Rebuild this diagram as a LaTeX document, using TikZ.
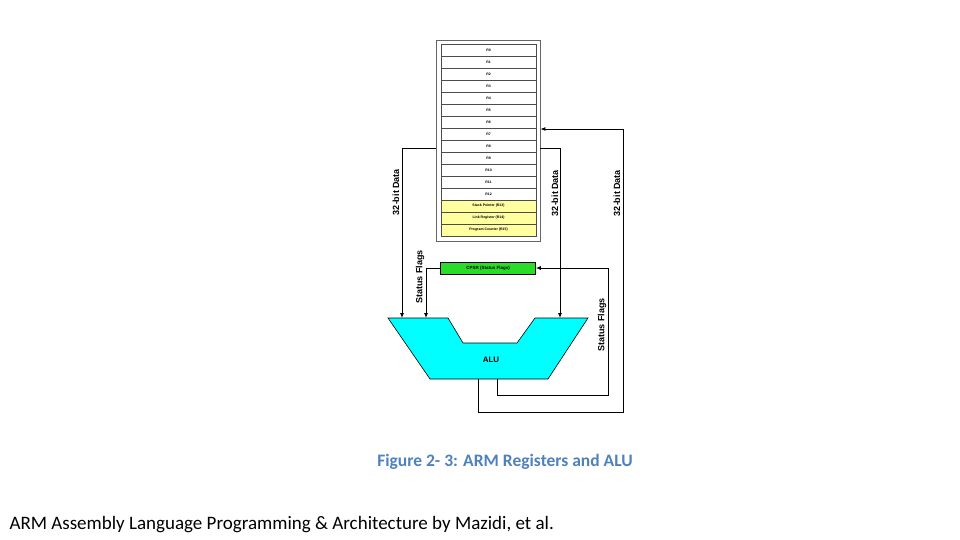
\documentclass[tikz,border=0pt]{standalone}
\usepackage{fontspec}
\setmainfont{Carlito}
\newfontfamily\arialf{Liberation Sans}
\definecolor{capblue}{RGB}{79,129,189}
\definecolor{regyel}{RGB}{255,255,160}
\definecolor{cpsrg}{RGB}{40,220,40}
\definecolor{alucy}{RGB}{0,255,255}
\begin{document}
\begin{tikzpicture}[x=1pt,y=-1pt,
 reg/.style={draw=black!70,line width=0.5pt,minimum width=95pt,minimum height=12pt,inner sep=0pt,font=\arialf\bfseries\fontsize{3.5}{4}\selectfont},
 ln/.style={draw=black,line width=0.9pt},
 arr/.style={ln,-{Latex[length=5pt,width=4pt]}},
 lab/.style={rotate=90,font=\arialf\bfseries\fontsize{9}{10}\selectfont}]
\usetikzlibrary{arrows.meta}
\useasboundingbox (0,0) rectangle (960,540);
\node[draw=black!60,line width=0.8pt,minimum width=104pt,minimum height=201pt,inner sep=0pt] (box) at (488,140.5) {};
\foreach \n [count=\i from 0] in {R0,R1,R2,R3,R4,R5,R6,R7,R8,R9,R10,R11,R12}
  \node[reg] (r\i) at (488.5,{50+12*\i}) {\n};
\node[reg,fill=regyel] (sp) at (488.5,206) {Stack Pointer (R13)};
\node[reg,fill=regyel] (lr) at (488.5,218) {Link Register (R14)};
\node[reg,fill=regyel] (pc) at (488.5,230) {Program Counter (R15)};
\node[reg,fill=cpsrg,draw=black,font=\arialf\bfseries\fontsize{4.5}{5}\selectfont] (cpsr) at (488,268) {CPSR (Status Flags)};
\draw[draw=black,line width=0.6pt,fill=alucy] (388,318) -- (448,318) -- (463,343) -- (517,343) -- (535,318) -- (588,318) -- (548,379) -- (430,379) -- cycle;
\node[font=\arialf\bfseries\fontsize{8}{9}\selectfont] (alu) at (491,360) {ALU};
\coordinate (aluL) at (402,318);
\coordinate (aluS) at (426,318);
\coordinate (aluR) at (560,318);
\coordinate (aluB1) at (478,379);
\coordinate (aluB2) at (497,379);
\draw[arr] (box.west |- 0,148) -| (aluL);
\draw[arr] (box.east |- 0,148) -| (aluR);
\draw[arr] (cpsr.west) -| (aluS);
\draw[arr] (aluB1) |- (623,412) |- (box.east |- 0,129);
\draw[arr] (aluB2) |- (608,395) |- (cpsr.east);
\node[lab] (l1) at (396,192) {32-bit Data};
\node[lab] (l2) at (555,193) {32-bit Data};
\node[lab] (l3) at (617,193) {32-bit Data};
\node[lab] (l4) at (420,277) {Status Flags};
\node[lab] (l5) at (602,325) {Status Flags};
\node[text=capblue,font=\bfseries\fontsize{17.5}{20}\selectfont] (cap) at (505,462) {Figure 2- 3: ARM Registers and ALU};
\node[anchor=west,font=\fontsize{19}{22}\selectfont] (foot) at (6,525) {ARM Assembly Language Programming \& Architecture by Mazidi, et al.};
\end{tikzpicture}
\end{document}
